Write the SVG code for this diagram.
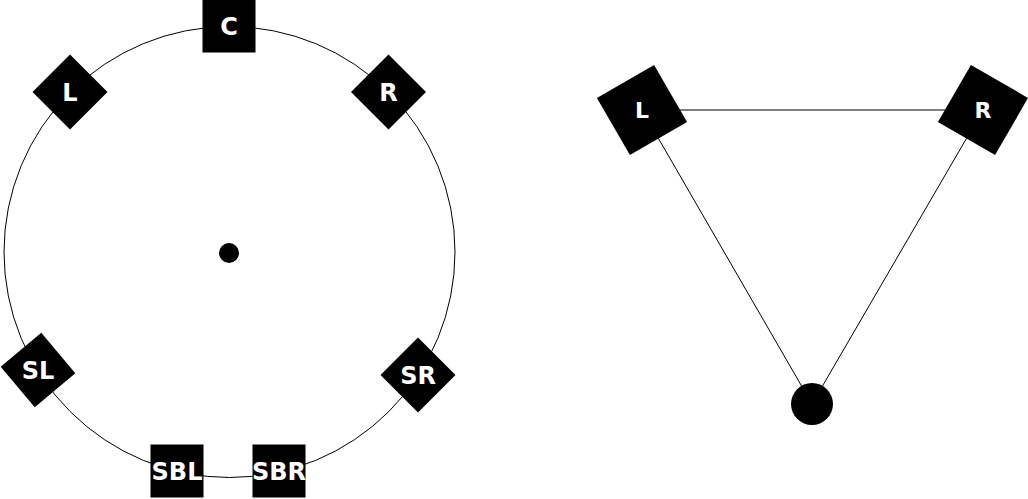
<svg xmlns="http://www.w3.org/2000/svg" width="1028" height="499" viewBox="0 0 1028 499">
<style>
.spk{fill:#000}
.lbl{fill:#fff;font-family:"DejaVu Sans",sans-serif;font-weight:bold;font-size:24px;text-anchor:middle}
.lbl2{fill:#fff;font-family:"DejaVu Sans",sans-serif;font-weight:bold;font-size:22px;text-anchor:middle}
.ln{fill:none;stroke:#000;stroke-width:1}
</style>
<rect width="1028" height="499" fill="#fff"/>
<g id="connectors">
<circle class="ln" cx="229.5" cy="252" r="225.5"/>
<line class="ln" x1="642" y1="110" x2="983" y2="110"/>
<line class="ln" x1="642" y1="110" x2="812" y2="404"/>
<line class="ln" x1="983" y1="110" x2="812" y2="404"/>
</g>
<g id="center"><circle class="spk" cx="229" cy="253" r="10"/></g>
<g id="C" transform="translate(229,26)"><rect class="spk" x="-26.5" y="-26.5" width="53" height="53"/><text class="lbl" y="9">C</text></g>
<g id="L" transform="translate(70,92)"><rect class="spk" x="-26.5" y="-26.5" width="53" height="53" transform="rotate(45)"/><text class="lbl" y="9">L</text></g>
<g id="R" transform="translate(388.5,92)"><rect class="spk" x="-26.5" y="-26.5" width="53" height="53" transform="rotate(45)"/><text class="lbl" y="9">R</text></g>
<g id="SL" transform="translate(38,370)"><rect class="spk" x="-26.5" y="-26.5" width="53" height="53" transform="rotate(50)"/><text class="lbl" y="9">SL</text></g>
<g id="SR" transform="translate(418,375)"><rect class="spk" x="-26.5" y="-26.5" width="53" height="53" transform="rotate(45)"/><text class="lbl" y="9">SR</text></g>
<g id="SBL" transform="translate(177,471)"><rect class="spk" x="-26.5" y="-26.5" width="53" height="53"/><text class="lbl" y="9">SBL</text></g>
<g id="SBR" transform="translate(279,471)"><rect class="spk" x="-26.5" y="-26.5" width="53" height="53"/><text class="lbl" y="9">SBR</text></g>
<g id="L2" transform="translate(642,110)"><rect class="spk" x="-33" y="-33" width="66" height="66" transform="rotate(-30)"/><text class="lbl2" y="8">L</text></g>
<g id="R2" transform="translate(983,110)"><rect class="spk" x="-33" y="-33" width="66" height="66" transform="rotate(30)"/><text class="lbl2" y="8">R</text></g>
<g id="listener"><circle class="spk" cx="812" cy="404" r="21"/></g>
</svg>
